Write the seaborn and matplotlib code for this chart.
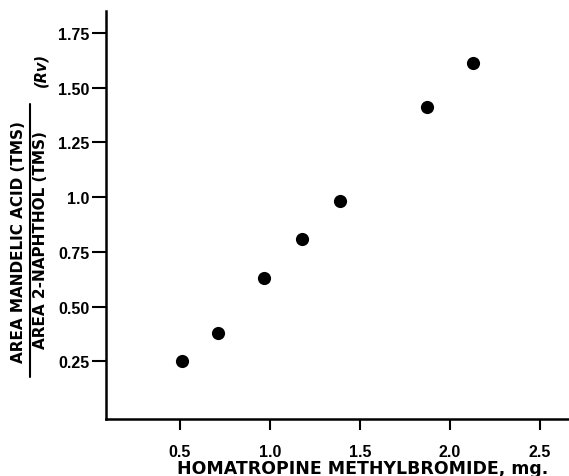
import matplotlib
matplotlib.use("Agg")
import matplotlib.pyplot as plt
import seaborn as sns
import pandas as pd
from matplotlib.lines import Line2D

dose_mg = [0.51, 0.71, 0.97, 1.18, 1.39, 1.87, 2.13]
area_ratio = [0.25, 0.38, 0.63, 0.81, 0.98, 1.41, 1.61]
x_ticks = [0.5, 1.0, 1.5, 2.0, 2.5]
x_tick_labels = ["0.5", "1.0", "1.5", "2.0", "2.5"]
y_ticks = [0.25, 0.50, 0.75, 1.0, 1.25, 1.50, 1.75]
y_tick_labels = ["0.25", "0.50", "0.75", "1.0", "1.25", "1.50", "1.75"]

df = pd.DataFrame({"dose": dose_mg, "ratio": area_ratio})

sns.set_style("ticks")
plt.rcParams["font.family"] = ["Liberation Sans", "DejaVu Sans"]
plt.rcParams["text.color"] = "black"
plt.rcParams["axes.labelcolor"] = "black"
plt.rcParams["xtick.color"] = "black"
plt.rcParams["ytick.color"] = "black"

fig = plt.figure(figsize=(5.69, 4.77), dpi=100)
ax = fig.add_axes([0.186, 0.119, 0.814, 0.856])
sns.scatterplot(data=df, x="dose", y="ratio", ax=ax, color="black",
                s=90, edgecolor="black", linewidth=0, legend=False)

ax.set_xlim(0.09, 2.66)
ax.set_ylim(-0.014, 1.85)
ax.set_xticks(x_ticks)
ax.set_xticklabels(x_tick_labels, fontsize=11.5, fontweight="bold")
ax.set_yticks(y_ticks)
ax.set_yticklabels(y_tick_labels, fontsize=11.5, fontweight="bold")
for s in ["top", "right"]:
    ax.spines[s].set_visible(False)
for s in ["left", "bottom"]:
    ax.spines[s].set_linewidth(1.8)
    ax.spines[s].set_color("black")
ax.tick_params(axis="both", direction="out", width=1.5,
               colors="black", labelcolor="black")
ax.tick_params(axis="x", length=8, pad=10)
ax.tick_params(axis="y", length=10, pad=2)
ax.set_xlabel("HOMATROPINE METHYLBROMIDE, mg.", fontsize=12.5, fontweight="bold",
              family=["DejaVu Sans"], color="black")
ax.xaxis.set_label_coords(0.554, -0.097)
ax.set_ylabel("")

W, H = 569, 477
fig.text(19 / W, 1 - 242 / H, "AREA MANDELIC ACID (TMS)", rotation=90,
         ha="center", va="center", fontsize=11, fontweight="bold",
         family=["DejaVu Sans"], color="black")
fig.text(41 / W, 1 - 240 / H, "AREA 2-NAPHTHOL (TMS)", rotation=90,
         ha="center", va="center", fontsize=11, fontweight="bold",
         family=["DejaVu Sans"], color="black")
fig.add_artist(Line2D([30 / W, 30 / W], [1 - 378 / H, 1 - 105 / H],
                      transform=fig.transFigure, color="black", linewidth=1.5))
fig.text(41 / W, 1 - 70 / H, "(Rv)", rotation=90, ha="center", va="center",
         fontsize=10.5, fontweight="bold", fontstyle="italic",
         family=["DejaVu Sans"], color="black")

fig.savefig("out.png", dpi=100)
